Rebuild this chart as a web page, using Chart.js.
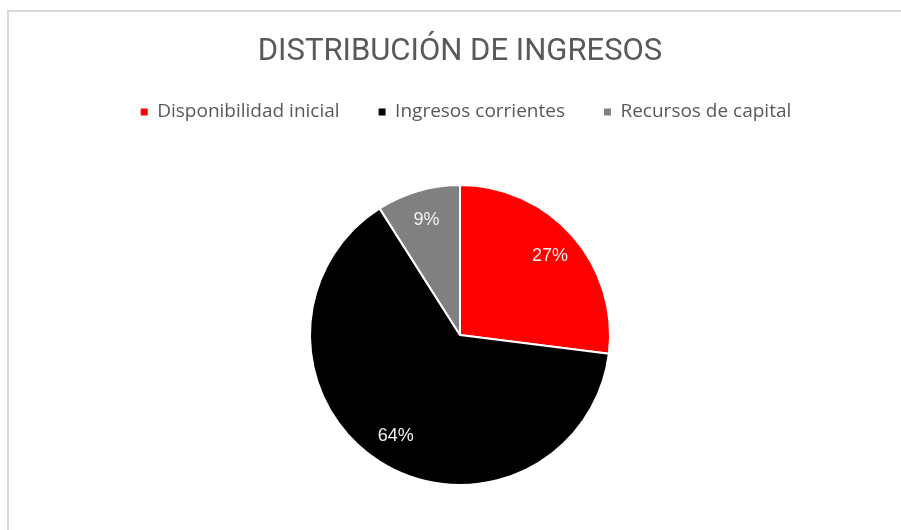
<!DOCTYPE html>
<html><head><meta charset="utf-8">
<script src="https://cdn.jsdelivr.net/npm/chart.js@4.4.1/dist/chart.umd.min.js"></script>
<style>
html,body{margin:0;padding:0;background:#fff;overflow:hidden;width:901px;height:530px}
#box{position:absolute;left:7px;top:10px;width:902px;height:540px;border-left:2px solid #d9d9d9;border-top:2px solid #d9d9d9}
#box canvas{display:block}
</style></head><body>
<div id="box"><canvas id="c" width="902" height="540"></canvas></div>
<script>
const titleText = 'DISTRIBUCIÓN DE INGRESOS';
const categories = ['Disponibilidad inicial', 'Ingresos corrientes', 'Recursos de capital'];
const values = [27, 64, 9];
const colors = ['#ff0000', '#000000', '#808080'];

const pctLabels = {
  id: 'pctLabels',
  afterDatasetsDraw(chart) {
    const ctx = chart.ctx;
    const meta = chart.getDatasetMeta(0);
    const data = chart.data.datasets[0].data;
    const total = data.reduce((a, b) => a + b, 0);
    ctx.save();
    ctx.font = '18px "Liberation Sans", Arial, sans-serif';
    ctx.fillStyle = '#f2f2f2';
    ctx.textAlign = 'center';
    ctx.textBaseline = 'middle';
    meta.data.forEach((arc, i) => {
      const p = arc.getProps(['x', 'y', 'startAngle', 'endAngle', 'outerRadius'], true);
      const mid = (p.startAngle + p.endAngle) / 2;
      const r = p.outerRadius * 0.8;
      ctx.fillText(Math.round(data[i] / total * 100) + '%', p.x + Math.cos(mid) * r, p.y + Math.sin(mid) * r);
    });
    ctx.restore();
  }
};

// nudge the legend row slightly right, as in the reference
const legendShift = {
  id: 'legendShift',
  afterLayout(chart) {
    if (chart.legend) { chart.legend.left += 6; chart.legend.right += 6; }
  }
};

const baseGen = Chart.overrides.doughnut.plugins.legend.labels.generateLabels;

new Chart(document.getElementById('c'), {
  type: 'pie',
  data: {
    labels: categories,
    datasets: [{
      data: values,
      backgroundColor: colors,
      borderColor: '#ffffff',
      borderWidth: 2
    }]
  },
  options: {
    responsive: false,
    animation: false,
    radius: 150,
    layout: { padding: { top: 0, bottom: 13.5, left: 0, right: 0 } },
    plugins: {
      tooltip: { enabled: false },
      title: {
        display: true,
        text: titleText,
        color: '#595959',
        font: { family: 'Roboto', size: 31, weight: 'normal', lineHeight: 0.5 },
        padding: { top: 32.5, bottom: 3.5 }
      },
      legend: {
        position: 'top',
        align: 'center',
        labels: {
          usePointStyle: true,
          pointStyle: 'rect',
          boxWidth: 7,
          boxHeight: 7,
          padding: 39,
          color: '#595959',
          font: { family: '"Open Sans"', size: 19 },
          generateLabels(chart) {
            const items = baseGen(chart);
            items.forEach(it => { it.lineWidth = 0; });
            return items;
          }
        }
      }
    }
  },
  plugins: [pctLabels, legendShift]
});
</script>
</body></html>
